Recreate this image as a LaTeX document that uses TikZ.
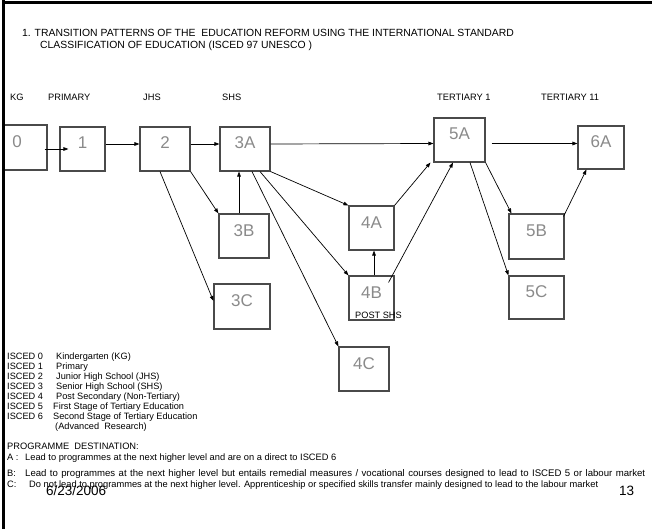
\documentclass[tikz,border=0pt]{standalone}
\usepackage{fontspec}
\setmainfont{Liberation Sans}
\usetikzlibrary{arrows.meta,calc}
\definecolor{boxline}{HTML}{4A4A4A}
\definecolor{boxtext}{HTML}{8A8A8A}
\begin{document}
\begin{tikzpicture}[x=1pt,y=-1pt,
  box/.style={draw=boxline,line width=1.1pt,inner sep=0pt,text=boxtext,
    font=\fontsize{17}{17}\selectfont,text height=9pt,text depth=9pt},
  arr/.style={-{Triangle[length=5pt,width=3.6pt]},line width=0.7pt},
  ttl/.style={anchor=base west,inner sep=0pt,font=\fontsize{10.4}{10.4}\selectfont},
  lvl/.style={anchor=base west,inner sep=0pt,font=\fontsize{9.3}{9.3}\selectfont},
  leg/.style={anchor=base west,inner sep=0pt,font=\fontsize{9.2}{9.2}\selectfont},
  dst/.style={anchor=base west,inner sep=0pt,font=\fontsize{9.3}{9.3}\selectfont},
  foot/.style={anchor=base west,inner sep=0pt,font=\fontsize{13.5}{13.5}\selectfont}]
\useasboundingbox (0,0) rectangle (652,529);
% boxes
\node[box,minimum width=60pt,minimum height=45pt] (b0) at (17,147.5) {0};
\node[box,minimum width=45pt,minimum height=44pt] (b1) at (82.5,149) {1};
\node[box,minimum width=50pt,minimum height=44pt] (b2) at (165,149) {2};
\node[box,minimum width=50pt,minimum height=44pt] (b3A) at (245,149) {3A};
\node[box,minimum width=50pt,minimum height=44pt] (b3B) at (244,236) {3B};
\node[box,minimum width=56pt,minimum height=45pt] (b3C) at (242,306.5) {3C};
\node[box,minimum width=45pt,minimum height=44pt] (b4A) at (371.5,228) {4A};
\node[box,minimum width=45pt,minimum height=44pt] (b4B) at (371.5,298) {4B};
\node[box,minimum width=50pt,minimum height=44pt] (b4C) at (364,369) {4C};
\node[box,minimum width=51pt,minimum height=44pt] (b5A) at (459.5,140) {5A};
\node[box,minimum width=46pt,minimum height=43pt] (b6A) at (601,147.5) {6A};
\node[box,minimum width=55pt,minimum height=45pt] (b5B) at (536.5,236.5) {5B};
\node[box,minimum width=55pt,minimum height=43pt] (b5C) at (536.5,297.5) {5C};
\node[anchor=base west,inner sep=0pt,font=\fontsize{9.2}{9.2}\selectfont] (post) at (355,318) {POST SHS};
% frame lines
\fill[white] (0,0) rectangle (2,529);
\draw[line width=3pt] (3.5,0) -- (3.5,529);
\draw[line width=2.4pt] (2,2.5) -- (652,2.5);
% title
\node[ttl] (t1) at (22,36.5) {1. TRANSITION PATTERNS OF THE\ \ EDUCATION REFORM USING THE INTERNATIONAL STANDARD};
\node[ttl] (t2) at (40,48.5) {CLASSIFICATION OF EDUCATION (ISCED 97 UNESCO )};
% level labels
\node[lvl] (lkg) at (10,101) {KG};
\node[lvl] (lpr) at (48,101) {PRIMARY};
\node[lvl] (ljh) at (143,101) {JHS};
\node[lvl] (lsh) at (222,101) {SHS};
\node[lvl] (lt1) at (437,101) {TERTIARY 1};
\node[lvl] (lt2) at (541,101) {TERTIARY 11};
% connectors
\draw[arr] ($(b0.east)+(-3,1.5)$) -- ($(b1.west)+(9,0)$);
\draw[arr] ($(b1.east)+(0,-5)$) -- ($(b2.west)+(0,-5)$);
\draw[arr] ($(b2.east)+(0,-5)$) -- ($(b3A.west)+(0,-5)$);
\draw[arr] ($(b3A.east)+(0,-5)$) -- ($(b5A.west)+(0,3.5)$);
\draw[arr] ($(b5A.east)+(6,3.5)$) -- ($(b6A.west)+(0,-4)$);
\draw[arr] (b2.south east) -- (b3B.north west);
\draw[arr] ($(b2.south)+(-5,0)$) -- ($(b3C.west)+(0,-5.5)$);
\draw[arr] ($(b3B.north)+(-5,0)$) -- ($(b3A.south)+(-6,0)$);
\draw[arr] (b3A.south east) -- (b4A.north west);
\draw[arr] ($(b3A.south)+(15,0)$) -- (b4B.north west);
\draw[arr] ($(b3A.south)+(7,0)$) -- (b4C.north west);
\draw[arr] ($(b4B.north)+(2.5,0)$) -- ($(b4A.south)+(2.5,0)$);
\draw[arr] (b4A.north east) -- ($(b5A.south west)+(-3,0)$);
\draw[arr] ($(b4B.north east)+(-6,7)$) -- ($(b5A.south)+(-6.5,0)$);
\draw[arr] (b5A.south east) -- ($(b5B.north west)+(3,0)$);
\draw[arr] ($(b5A.south)+(10.5,0)$) -- (b5C.north west);
\draw[arr] ($(b5B.north east)+(-1,3)$) -- ($(b6A.south west)+(9,0)$);
% legend
\node[leg] (i0) at (7,359) {\makebox[49pt][l]{ISCED 0}Kindergarten (KG)};
\node[leg] (i1) at (7,369) {\makebox[49pt][l]{ISCED 1}Primary};
\node[leg] (i2) at (7,379) {\makebox[49pt][l]{ISCED 2}Junior High School (JHS)};
\node[leg] (i3) at (7,389) {\makebox[49pt][l]{ISCED 3}Senior High School (SHS)};
\node[leg] (i4) at (7,399) {\makebox[49pt][l]{ISCED 4}Post Secondary (Non-Tertiary)};
\node[leg] (i5) at (7,409) {\makebox[46pt][l]{ISCED 5}First Stage of Tertiary Education};
\node[leg] (i6) at (7,419) {\makebox[46pt][l]{ISCED 6}Second Stage of Tertiary Education};
\node[leg] (i7) at (55,429) {(Advanced\ \ Research)};
\node[dst] (pd) at (7,449.5) {PROGRAMME\ \ DESTINATION:};
\node[dst] (pa) at (7,460.5) {\makebox[18pt][l]{A :}Lead to programmes at the next higher level and are on a direct to ISCED 6};
\node[dst] (pb) at (7,476.5) {\makebox[18pt][l]{B:}\fontsize{9.6}{9.6}\selectfont\makebox[620pt][s]{Lead to programmes at the next higher level but entails remedial measures / vocational courses designed to lead to ISCED 5 or labour market}};
\node[dst] (pc) at (7,487.5) {\makebox[22pt][l]{C:}Do not lead to programmes at the next higher level. Apprenticeship or specified skills transfer mainly designed to lead to the labour market};
\node[foot] (date) at (46,495) {6/23/2006};
\node[foot] (pg) at (619,495) {13};
\end{tikzpicture}
\end{document}
